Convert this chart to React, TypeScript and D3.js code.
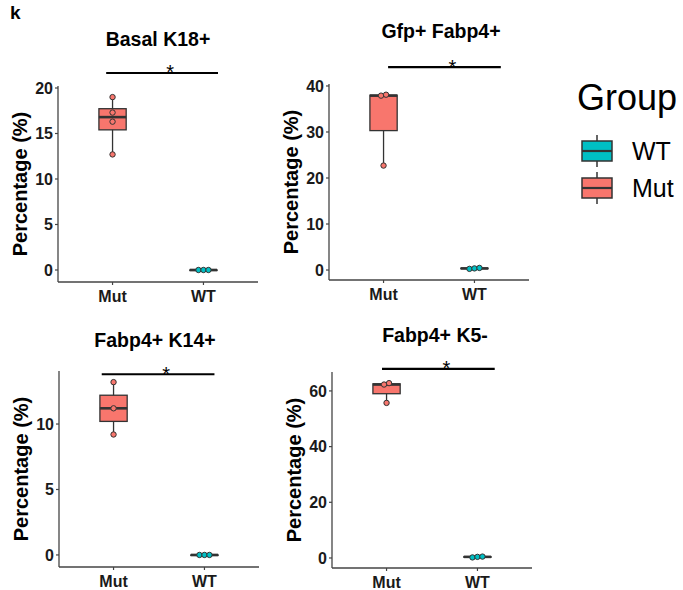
import React, { useEffect, useRef } from "react";
import * as d3 from "d3";

// groups on the x axis
const categories = ["Mut", "WT"];

// panel titles
const titles = ["Basal K18+", "Gfp+ Fabp4+", "Fabp4+ K14+", "Fabp4+ K5-"];

// values (percentages)
const basalMut = [12.7, 16.3, 17.3, 19.0];
const basalWT = [0.0, 0.0, 0.0];
const gfpMut = [22.7, 37.9, 38.1];
const gfpWT = [0.25, 0.35, 0.45];
const k14Mut = [9.2, 11.2, 13.2];
const k14WT = [0.0, 0.0, 0.0];
const k5Mut = [55.7, 62.3, 62.8];
const k5WT = [0.2, 0.4, 0.5];

// y tick labels
const basalTicks = [0, 5, 10, 15, 20];
const gfpTicks = [0, 10, 20, 30, 40];
const k14Ticks = [0, 5, 10];
const k5Ticks = [0, 20, 40, 60];

const FONT = "'Liberation Sans', Arial, Helvetica, sans-serif";
const MUT_COLOR = "#F8766D";
const WT_COLOR = "#00BFC4";

const panels = [
  { title: titles[0], mut: basalMut, wt: basalWT, ticks: basalTicks, domain: [-1.32, 20.22],
    left: 58, top: 86, bottom: 282, titleX: 158, titleY: 46, sigY: 21.65, sigX: [0.93, 2.16] },
  { title: titles[1], mut: gfpMut, wt: gfpWT, ticks: gfpTicks, domain: [-2.17, 40.43],
    left: 329, top: 84, bottom: 280, titleX: 441, titleY: 38, sigY: 44.1, sigX: [1.05, 2.29] },
  { title: titles[2], mut: k14Mut, wt: k14WT, ticks: k14Ticks, domain: [-0.92, 14.05],
    left: 59, top: 371, bottom: 567, titleX: 155, titleY: 347, sigY: 13.8, sigX: [0.87, 2.11] },
  { title: titles[3], mut: k5Mut, wt: k5WT, ticks: k5Ticks, domain: [-3.6, 66.8],
    left: 332, top: 372, bottom: 568, titleX: 435, titleY: 342, sigY: 67.9, sigX: [0.95, 2.19] },
];

function boxStats(values: number[]) {
  const s = values.slice().sort(d3.ascending);
  const q1 = d3.quantile(s, 0.25) as number;
  const med = d3.quantile(s, 0.5) as number;
  const q3 = d3.quantile(s, 0.75) as number;
  const iqr = q3 - q1;
  const lo = d3.min(s.filter((v) => v >= q1 - 1.5 * iqr)) as number;
  const hi = d3.max(s.filter((v) => v <= q3 + 1.5 * iqr)) as number;
  return { q1, med, q3, lo, hi };
}

export default function App() {
  const ref = useRef<SVGSVGElement>(null);

  useEffect(() => {
    const svg = d3.select(ref.current);
    svg.selectAll("*").remove();

    svg.append("text").attr("x", 10).attr("y", 19).text("k")
      .style("font-family", FONT).style("font-weight", "bold").style("font-size", "19px");

    panels.forEach((p) => {
      const g = svg.append("g");
      const x = d3.scaleLinear().domain([0.4, 2.6]).range([p.left, p.left + 200]);
      const y = d3.scaleLinear().domain(p.domain).range([p.bottom, p.top]);
      const pos = (c: string) => categories.indexOf(c) + 1;

      // axes lines
      g.append("line").attr("x1", p.left).attr("x2", p.left).attr("y1", p.top).attr("y2", p.bottom)
        .attr("stroke", "#444").attr("stroke-width", 1.3);
      g.append("line").attr("x1", p.left).attr("x2", p.left + 200).attr("y1", p.bottom).attr("y2", p.bottom)
        .attr("stroke", "#444").attr("stroke-width", 1.3);

      // y ticks
      p.ticks.forEach((t) => {
        g.append("line").attr("x1", p.left - 3).attr("x2", p.left).attr("y1", y(t)).attr("y2", y(t))
          .attr("stroke", "#444").attr("stroke-width", 1.2);
        g.append("text").attr("x", p.left - 5).attr("y", y(t)).attr("dy", "0.36em")
          .attr("text-anchor", "end").text(t)
          .style("font-family", FONT).style("font-weight", "bold").style("font-size", "16px").attr("fill", "#1a1a1a");
      });

      // x ticks
      categories.forEach((c) => {
        g.append("line").attr("x1", x(pos(c))).attr("x2", x(pos(c))).attr("y1", p.bottom).attr("y2", p.bottom + 3)
          .attr("stroke", "#444").attr("stroke-width", 1.2);
        g.append("text").attr("x", x(pos(c))).attr("y", p.bottom + 20).attr("text-anchor", "middle").text(c)
          .style("font-family", FONT).style("font-weight", "bold").style("font-size", "16px").attr("fill", "#1a1a1a");
      });

      // axis title
      g.append("text")
        .attr("transform", `translate(${p.left - 31},${(p.top + p.bottom) / 2}) rotate(-90)`)
        .attr("text-anchor", "middle").text("Percentage (%)")
        .style("font-family", FONT).style("font-weight", "bold").style("font-size", "20px");

      // panel title
      g.append("text").attr("x", p.titleX).attr("y", p.titleY).attr("text-anchor", "middle").text(p.title)
        .style("font-family", FONT).style("font-weight", "bold").style("font-size", "19.5px");

      // boxes
      const groups = [
        { cat: "Mut", vals: p.mut, color: MUT_COLOR },
        { cat: "WT", vals: p.wt, color: WT_COLOR },
      ];
      groups.forEach((gr) => {
        const st = boxStats(gr.vals);
        const cx = x(pos(gr.cat));
        const hw = x(1.15) - x(1);
        g.append("line").attr("x1", cx).attr("x2", cx).attr("y1", y(st.lo)).attr("y2", y(st.hi))
          .attr("stroke", "#333").attr("stroke-width", 1.3);
        g.append("rect").attr("x", cx - hw).attr("width", 2 * hw)
          .attr("y", y(st.q3)).attr("height", Math.max(y(st.q1) - y(st.q3), 0.5))
          .attr("fill", gr.color).attr("stroke", "#333").attr("stroke-width", 1.3);
        g.append("line").attr("x1", cx - hw).attr("x2", cx + hw).attr("y1", y(st.med)).attr("y2", y(st.med))
          .attr("stroke", "#333").attr("stroke-width", 2.6);

        // points, spread sideways when they overlap
        const sorted = gr.vals.slice().sort(d3.ascending);
        const clusters: number[][] = [];
        sorted.forEach((v) => {
          const last = clusters[clusters.length - 1];
          if (last && Math.abs(y(last[last.length - 1]) - y(v)) < 4) last.push(v);
          else clusters.push([v]);
        });
        clusters.forEach((cl) => {
          cl.forEach((v, i) => {
            g.append("circle").attr("cx", cx + (i - (cl.length - 1) / 2) * 5).attr("cy", y(v)).attr("r", 2.7)
              .attr("fill", gr.color).attr("stroke", "#333").attr("stroke-width", 1);
          });
        });
      });

      // significance bar
      g.append("line").attr("x1", x(p.sigX[0])).attr("x2", x(p.sigX[1])).attr("y1", y(p.sigY)).attr("y2", y(p.sigY))
        .attr("stroke", "#000").attr("stroke-width", 2.2);
      g.append("text").attr("x", (x(p.sigX[0]) + x(p.sigX[1])) / 2 + 8).attr("y", y(p.sigY) + 6.5)
        .attr("text-anchor", "middle").text("*")
        .style("font-family", FONT).style("font-size", "20px");
    });

    // legend
    const lg = svg.append("g");
    lg.append("text").attr("x", 577).attr("y", 110).text("Group")
      .style("font-family", FONT).style("font-size", "36px");
    const legendItems = [
      { label: "WT", color: WT_COLOR, top: 141 },
      { label: "Mut", color: MUT_COLOR, top: 178 },
    ];
    legendItems.forEach((it) => {
      const cx = 597;
      lg.append("line").attr("x1", cx).attr("x2", cx).attr("y1", it.top - 6).attr("y2", it.top + 26)
        .attr("stroke", "#333").attr("stroke-width", 1.5);
      lg.append("rect").attr("x", 582).attr("y", it.top).attr("width", 30).attr("height", 20)
        .attr("fill", it.color).attr("stroke", "#333").attr("stroke-width", 1.5);
      lg.append("line").attr("x1", 582).attr("x2", 612).attr("y1", it.top + 10).attr("y2", it.top + 10)
        .attr("stroke", "#333").attr("stroke-width", 2.2);
      lg.append("text").attr("x", 632).attr("y", it.top + 19).text(it.label)
        .style("font-family", FONT).style("font-size", "25px");
    });
  }, []);

  return (
    <svg ref={ref} width={683} height={590}
      style={{ position: "absolute", left: 0, top: 0, background: "#fff" }} />
  );
}
